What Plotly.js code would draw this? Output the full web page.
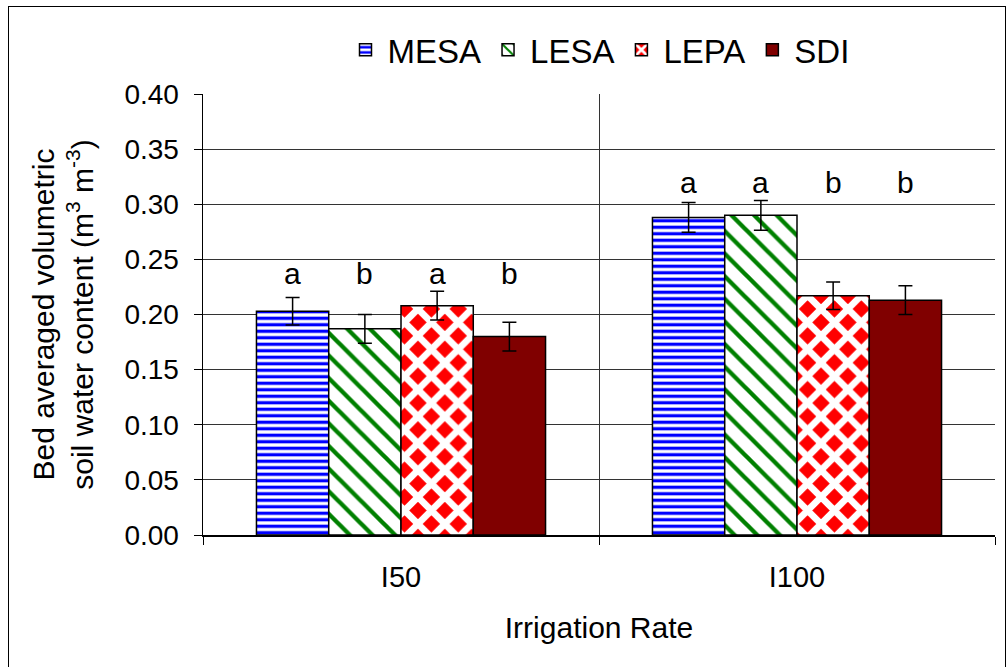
<!DOCTYPE html>
<html><head><meta charset="utf-8">
<script src="https://cdn.plot.ly/plotly-3.0.1.min.js"></script>
<style>
html,body{margin:0;padding:0;background:#fff;overflow:hidden}
#chart{width:1008px;height:667px;position:absolute;left:0;top:0}
#frame{position:absolute;left:8px;top:6px;width:998px;height:690px;border:1.5px solid #000;pointer-events:none;box-sizing:border-box}
</style>
</head><body><div id="chart"></div><div id="frame"></div>
<script>
// ---- data ----
const categories = ['I50', 'I100'];
const seriesNames = ['MESA', 'LESA', 'LEPA', 'SDI'];
const MESA = [0.203, 0.288];
const LESA = [0.187, 0.290];
const LEPA = [0.208, 0.217];
const SDI  = [0.180, 0.213];
const MESA_err = [0.0125, 0.0135];
const LESA_err = [0.013, 0.0135];
const LEPA_err = [0.013, 0.0125];
const SDI_err  = [0.013, 0.013];
const MESA_letters = ['a', 'a'];
const LESA_letters = ['b', 'a'];
const LEPA_letters = ['a', 'b'];
const SDI_letters  = ['b', 'b'];
const yTickVals = [0, 0.05, 0.10, 0.15, 0.20, 0.25, 0.30, 0.35, 0.40];

// ---- build ----
const values = [MESA, LESA, LEPA, SDI];
const errs = [MESA_err, LESA_err, LEPA_err, SDI_err];
const letters = [MESA_letters, LESA_letters, LEPA_letters, SDI_letters];
const patterns = [
  {shape: '-', fgcolor: '#0000ff', bgcolor: '#ffffff', size: 6.5, solidity: 0.5},
  {shape: '\\', fgcolor: '#008000', bgcolor: '#ffffff', size: 16, solidity: 0.27},
  {shape: 'x', fgcolor: '#ffffff', bgcolor: '#ff0000', size: 19, solidity: 0.58},
  null
];
const baseColors = ['#ffffff', '#ffffff', '#ff0000', '#800000'];
const FONT = 'Arial, "Liberation Sans", sans-serif';
const bargap = 0.27;

const traces = seriesNames.map((name, i) => {
  const marker = {color: baseColors[i], line: {color: '#000', width: 1.5}};
  if (patterns[i]) marker.pattern = patterns[i];
  return {
    type: 'bar', name: name, x: categories, y: values[i],
    marker: marker,
    error_y: {type: 'data', array: errs[i], visible: true, color: '#000', thickness: 1.5, width: 7},
    hoverinfo: 'skip'
  };
});

const annotations = [];
const gw = 1 - bargap;
categories.forEach((c, ci) => {
  let top = 0;
  values.forEach((v, si) => { top = Math.max(top, v[ci] + errs[si][ci]); });
  const ly = top + 0.016;
  seriesNames.forEach((s, si) => {
    annotations.push({
      xref: 'x', yref: 'y',
      x: ci - gw / 2 + gw * (si + 0.5) / seriesNames.length,
      y: ly, text: letters[si][ci], showarrow: false,
      yanchor: 'middle', xanchor: 'center',
      font: {family: FONT, size: 30, color: '#000'}
    });
  });
});

const layout = {
  width: 1008, height: 667,
  margin: {l: 203, r: 13, t: 94, b: 132, pad: 0},
  paper_bgcolor: '#fff', plot_bgcolor: '#fff',
  barmode: 'group', bargap: bargap, bargroupgap: 0,
  font: {family: FONT, color: '#000', size: 28},
  showlegend: true,
  legend: {
    orientation: 'h', x: 0.5, xanchor: 'center', y: 1.1, yanchor: 'middle',
    font: {family: FONT, size: 33, color: '#000'},
    itemwidth: 34, tracegroupgap: 0, bgcolor: 'rgba(0,0,0,0)'
  },
  xaxis: {
    type: 'category', range: [-0.5, 1.5],
    tickson: 'boundaries', ticks: 'outside', ticklen: 8, tickcolor: '#000', tickwidth: 1,
    showline: true, linecolor: '#000', linewidth: 1.5,
    showgrid: true, gridcolor: '#333', gridwidth: 1,
    tickfont: {family: FONT, size: 29},
    ticklabelstandoff: 16,
    title: {text: 'Irrigation Rate', font: {family: FONT, size: 30}, standoff: 24}
  },
  yaxis: {
    range: [0, 0.4], tickvals: yTickVals, ticktext: yTickVals.map(v => v.toFixed(2)),
    ticks: 'outside', ticklen: 8, tickcolor: '#000', tickwidth: 1,
    showline: true, linecolor: '#000', linewidth: 1.5,
    showgrid: true, gridcolor: '#333', gridwidth: 1, zeroline: false,
    tickfont: {family: FONT, size: 28},
    ticklabelstandoff: 9,
    title: {text: 'Bed averaged volumetric<br>soil water content (m<sup>3</sup> m<sup>-3</sup>)',
            font: {family: FONT, size: 30}, standoff: 22}
  },
  annotations: annotations
};

Plotly.newPlot('chart', traces, layout, {displayModeBar: false, staticPlot: true});
</script>
</body></html>
